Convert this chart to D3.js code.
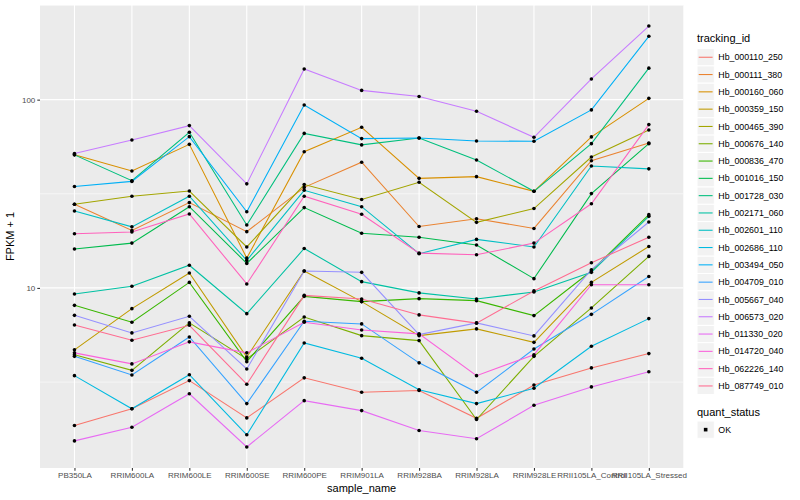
<!DOCTYPE html>
<html>
<head>
<meta charset="utf-8">
<script src="https://cdn.jsdelivr.net/npm/d3@7"></script>
<style>
  body { margin: 0; background: #fff; }
  text { font-family: "Liberation Sans", Arial, sans-serif; }
</style>
</head>
<body>
<div id="chart"></div>
<script>
// sample names on the x axis
const samples = ["PB350LA", "RRIM600LA", "RRIM600LE", "RRIM600SE", "RRIM600PE", "RRIM901LA",
  "RRIM928BA", "RRIM928LA", "RRIM928LE", "RRII105LA_Control", "RRII105LA_Stressed"];

// FPKM + 1 per tracking id, one value per sample
const hb_000110_250 = [1.86, 2.28, 3.22, 2.04, 3.33, 2.79, 2.85, 2.03, 3.05, 3.76, 4.48];
const hb_000111_380 = [27.8, 20.2, 28.4, 19.9, 34.2, 46.5, 21.2, 23.3, 20.7, 47.4, 58.9];
const hb_000160_060 = [51.0, 41.8, 57.9, 14.4, 52.9, 71.3, 38.2, 39.0, 32.6, 63.4, 101.6];
const hb_000359_150 = [4.69, 7.76, 12.0, 4.30, 12.3, 8.46, 5.58, 6.06, 5.14, 10.7, 16.6];
const hb_000465_390 = [27.8, 30.7, 32.7, 16.5, 35.4, 29.5, 36.4, 22.3, 26.4, 49.6, 69.0];
const hb_000676_140 = [4.42, 3.65, 6.52, 4.20, 7.01, 5.58, 5.25, 2.00, 4.33, 7.83, 14.7];
const hb_000836_470 = [8.08, 6.57, 10.7, 4.06, 9.02, 8.46, 8.77, 8.56, 7.13, 12.3, 24.5];
const hb_001016_150 = [16.1, 17.3, 27.0, 13.5, 26.7, 19.5, 18.6, 16.9, 11.2, 31.7, 58.4];
const hb_001728_030 = [50.9, 37.1, 67.1, 21.6, 66.2, 57.5, 62.6, 47.8, 32.6, 58.4, 147];
const hb_002171_060 = [9.29, 10.2, 13.2, 7.30, 16.2, 10.8, 9.41, 8.74, 9.52, 12.1, 24.0];
const hb_002601_110 = [25.6, 21.1, 30.7, 14.0, 33.0, 27.0, 15.2, 18.1, 16.5, 44.4, 42.9];
const hb_002686_110 = [3.42, 2.28, 3.46, 1.66, 5.10, 4.23, 2.88, 2.43, 2.93, 4.90, 6.87];
const hb_003494_050 = [34.6, 36.8, 63.6, 25.4, 93.7, 62.1, 62.6, 60.3, 60.1, 88.2, 217];
const hb_004709_010 = [4.33, 3.45, 5.49, 2.43, 6.65, 6.44, 4.00, 2.79, 4.74, 7.24, 11.5];
const hb_005667_040 = [7.15, 5.77, 7.07, 3.71, 12.3, 12.1, 5.65, 6.52, 5.56, 12.5, 22.4];
const hb_006573_020 = [51.7, 61.1, 72.8, 35.7, 145.6, 112, 104, 86.7, 63.1, 128.8, 246];
const hb_011330_020 = [1.54, 1.82, 2.74, 1.43, 2.52, 2.23, 1.75, 1.58, 2.38, 2.98, 3.59];
const hb_014720_040 = [4.52, 3.95, 5.17, 4.52, 6.57, 5.98, 5.70, 3.42, 4.42, 10.4, 10.4];
const hb_062226_140 = [19.4, 19.8, 24.7, 10.5, 30.7, 24.6, 15.3, 15.0, 17.3, 28.0, 73.7];
const hb_087749_010 = [6.36, 5.27, 6.33, 3.08, 9.13, 8.74, 7.19, 6.50, 9.64, 13.6, 18.6];

const trackingIds = ["Hb_000110_250", "Hb_000111_380", "Hb_000160_060", "Hb_000359_150", "Hb_000465_390",
  "Hb_000676_140", "Hb_000836_470", "Hb_001016_150", "Hb_001728_030", "Hb_002171_060",
  "Hb_002601_110", "Hb_002686_110", "Hb_003494_050", "Hb_004709_010", "Hb_005667_040",
  "Hb_006573_020", "Hb_011330_020", "Hb_014720_040", "Hb_062226_140", "Hb_087749_010"];
const seriesValues = [hb_000110_250, hb_000111_380, hb_000160_060, hb_000359_150, hb_000465_390,
  hb_000676_140, hb_000836_470, hb_001016_150, hb_001728_030, hb_002171_060,
  hb_002601_110, hb_002686_110, hb_003494_050, hb_004709_010, hb_005667_040,
  hb_006573_020, hb_011330_020, hb_014720_040, hb_062226_140, hb_087749_010];
const quantStatus = ["OK"];

// ggplot default hue palette for 20 levels
const palette = ["#F8766D", "#EA8331", "#D89000", "#C09B00", "#A3A500", "#7CAE00", "#39B600", "#00BB4E",
  "#00BF7D", "#00C1A3", "#00BFC4", "#00BAE0", "#00B0F6", "#35A2FF", "#9590FF", "#C77CFF",
  "#E76BF3", "#FA62DB", "#FF62BC", "#FF6C91"];

const width = 800, height = 500;
const panel = { left: 40, right: 683.3, top: 5, bottom: 468 };

const series = trackingIds.map((id, i) => ({
  id: id,
  points: samples.map((s, j) => ({ sample: s, value: seriesValues[i][j] }))
}));

const svg = d3.select("#chart").append("svg")
  .attr("width", width)
  .attr("height", height);

const color = d3.scaleOrdinal().domain(trackingIds).range(palette);

const x = d3.scalePoint()
  .domain(samples)
  .range([panel.left, panel.right])
  .padding(0.6);

// log scale with 5% expansion like ggplot
const all = seriesValues.flat();
const lo = Math.log10(d3.min(all)), hi = Math.log10(d3.max(all));
const pad = (hi - lo) * 0.05;
const y = d3.scaleLog()
  .domain([Math.pow(10, lo - pad), Math.pow(10, hi + pad)])
  .range([panel.bottom, panel.top]);

// panel background
svg.append("rect")
  .attr("x", panel.left).attr("y", panel.top)
  .attr("width", panel.right - panel.left)
  .attr("height", panel.bottom - panel.top)
  .attr("fill", "#EBEBEB");

const grid = svg.append("g");
const [d0, d1] = y.domain();
const minorY = [Math.pow(10, 0.5), Math.pow(10, 1.5), Math.pow(10, 2.5)].filter(v => v >= d0 && v <= d1);
const majorY = [10, 100];

grid.selectAll(".minor").data(minorY).enter().append("line")
  .attr("x1", panel.left).attr("x2", panel.right)
  .attr("y1", d => y(d)).attr("y2", d => y(d))
  .attr("stroke", "#fff").attr("stroke-width", 0.55);

grid.selectAll(".major").data(majorY).enter().append("line")
  .attr("x1", panel.left).attr("x2", panel.right)
  .attr("y1", d => y(d)).attr("y2", d => y(d))
  .attr("stroke", "#fff").attr("stroke-width", 1.1);

grid.selectAll(".vx").data(samples).enter().append("line")
  .attr("x1", d => x(d)).attr("x2", d => x(d))
  .attr("y1", panel.top).attr("y2", panel.bottom)
  .attr("stroke", "#fff").attr("stroke-width", 1.1);

// lines
const line = d3.line()
  .x(d => x(d.sample))
  .y(d => y(d.value));

svg.append("g").selectAll("path")
  .data(series)
  .enter().append("path")
  .attr("d", d => line(d.points))
  .attr("fill", "none")
  .attr("stroke", d => color(d.id))
  .attr("stroke-width", 1.07);

// points
svg.append("g").selectAll("circle")
  .data(series.flatMap(s => s.points))
  .enter().append("circle")
  .attr("cx", d => x(d.sample))
  .attr("cy", d => y(d.value))
  .attr("r", 1.8)
  .attr("fill", "#000");

// axes
const xAxis = svg.append("g")
  .attr("transform", `translate(0,${panel.bottom})`)
  .call(d3.axisBottom(x).tickSize(2.7).tickPadding(2));
const yAxis = svg.append("g")
  .attr("transform", `translate(${panel.left},0)`)
  .call(d3.axisLeft(y).tickValues(majorY).tickFormat(d3.format("d")).tickSize(2.7).tickPadding(2));

[xAxis, yAxis].forEach(a => {
  a.select(".domain").remove();
  a.selectAll(".tick line").attr("stroke", "#333333").attr("stroke-width", 1.07);
  a.selectAll(".tick text").attr("fill", "#4D4D4D").attr("font-size", 8)
    .attr("font-family", "Liberation Sans, Arial, sans-serif");
});

// axis titles
svg.append("text")
  .attr("x", (panel.left + panel.right) / 2)
  .attr("y", 492)
  .attr("text-anchor", "middle")
  .attr("font-size", 11)
  .text("sample_name");

svg.append("text")
  .attr("transform", `translate(14,${(panel.top + panel.bottom) / 2}) rotate(-90)`)
  .attr("text-anchor", "middle")
  .attr("font-size", 11)
  .text("FPKM + 1");

// legend: tracking_id
const keySize = 17.3;
const legX = 697;
const leg = svg.append("g");
leg.append("text")
  .attr("x", legX).attr("y", 42)
  .attr("font-size", 11)
  .text("tracking_id");

const items = leg.selectAll(".item")
  .data(trackingIds)
  .enter().append("g")
  .attr("transform", (d, i) => `translate(${legX},${48.6 + i * keySize})`);

items.append("rect")
  .attr("width", keySize).attr("height", keySize)
  .attr("fill", "#F2F2F2")
  .attr("stroke", "#fff").attr("stroke-width", 1);

items.append("line")
  .attr("x1", 1.7).attr("x2", keySize - 1.7)
  .attr("y1", keySize / 2).attr("y2", keySize / 2)
  .attr("stroke", d => color(d))
  .attr("stroke-width", 1.07);

items.append("text")
  .attr("x", keySize + 4)
  .attr("y", keySize / 2)
  .attr("dy", "0.35em")
  .attr("font-size", 8.8)
  .text(d => d);

// legend: quant_status
const leg2 = svg.append("g");
leg2.append("text")
  .attr("x", legX).attr("y", 416)
  .attr("font-size", 11)
  .text("quant_status");

const items2 = leg2.selectAll(".item")
  .data(quantStatus)
  .enter().append("g")
  .attr("transform", (d, i) => `translate(${legX},${421 + i * keySize})`);

items2.append("rect")
  .attr("width", keySize).attr("height", keySize)
  .attr("fill", "#F2F2F2")
  .attr("stroke", "#fff").attr("stroke-width", 1);

items2.append("rect")
  .attr("x", keySize / 2 - 1.8).attr("y", keySize / 2 - 1.8)
  .attr("width", 3.6).attr("height", 3.6)
  .attr("fill", "#000");

items2.append("text")
  .attr("x", keySize + 4)
  .attr("y", keySize / 2)
  .attr("dy", "0.35em")
  .attr("font-size", 8.8)
  .text(d => d);
</script>
</body>
</html>
